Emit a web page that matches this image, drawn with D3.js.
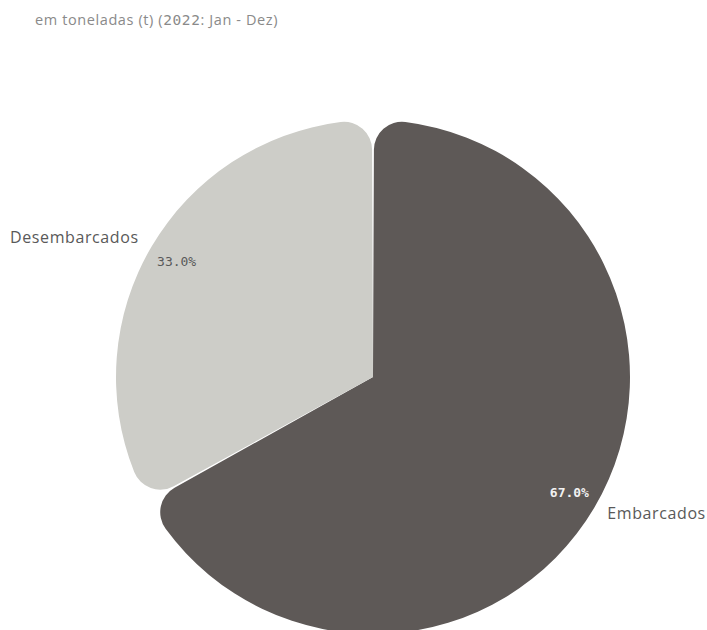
<!DOCTYPE html>
<html>
<head>
<meta charset="utf-8">
<script src="https://cdn.jsdelivr.net/npm/d3@7"></script>
<style>
  html, body { margin: 0; padding: 0; background: #ffffff; }
  svg { display: block; }
</style>
</head>
<body>
<svg id="chart" width="707" height="630"></svg>
<script>
// Tonnage split for 2022 (Jan - Dez)
const categories = ["Embarcados", "Desembarcados"];
const shares = [67.0, 33.0];
const sliceColors = ["#5e5957", "#cdcdc8"];
const subtitleParts = ["em toneladas (t) (", "2022", ": Jan - Dez)"];

const width = 707, height = 630;
const cx = 373, cy = 377, radius = 257;
const sansFont = "'Open Sans', Roboto, sans-serif";
const monoFont = "'DejaVu Sans Mono', monospace";

const svg = d3.select("#chart");

const title = svg.append("text")
  .attr("x", 35)
  .attr("y", 25)
  .attr("font-family", sansFont)
  .attr("font-size", 14.5)
  .attr("letter-spacing", 0.6)
  .attr("fill", "#8a8a8a");
title.selectAll("tspan")
  .data(subtitleParts)
  .join("tspan")
  .attr("font-family", (d, i) => i === 1 ? monoFont : sansFont)
  .text(d => d);

const data = categories.map((c, i) => ({ name: c, value: shares[i], color: sliceColors[i] }));

const pie = d3.pie().value(d => d.value).sort(null).padAngle(0.008);
const arcs = pie(data);

const arc = d3.arc().innerRadius(0).outerRadius(radius).cornerRadius(28);
const labelArc = d3.arc().innerRadius(radius * 0.887).outerRadius(radius * 0.887);
const outerArc = d3.arc().innerRadius(radius + 15).outerRadius(radius + 15);

const g = svg.append("g").attr("transform", `translate(${cx},${cy})`);

g.selectAll("path.slice")
  .data(arcs)
  .join("path")
  .attr("class", "slice")
  .attr("d", arc)
  .attr("fill", d => d.data.color);

// Percentage inside each slice
g.selectAll("text.pct")
  .data(arcs)
  .join("text")
  .attr("class", "pct")
  .attr("transform", d => `translate(${labelArc.centroid(d)})`)
  .attr("text-anchor", "middle")
  .attr("dy", "0.35em")
  .attr("font-family", monoFont)
  .attr("font-size", 13)
  .attr("font-weight", (d, i) => i === 0 ? "bold" : "normal")
  .attr("fill", (d, i) => i === 0 ? "#f2f2f2" : "#595959")
  .text(d => d.data.value.toFixed(1) + "%");

// Category names outside the pie
g.selectAll("text.name")
  .data(arcs)
  .join("text")
  .attr("class", "name")
  .attr("transform", d => `translate(${outerArc.centroid(d)})`)
  .attr("text-anchor", d => ((d.startAngle + d.endAngle) / 2) < Math.PI ? "start" : "end")
  .attr("dy", "0.25em")
  .attr("font-family", sansFont)
  .attr("font-size", 16)
  .attr("letter-spacing", 0.6)
  .attr("fill", "#595959")
  .text(d => d.data.name);
</script>
</body>
</html>
